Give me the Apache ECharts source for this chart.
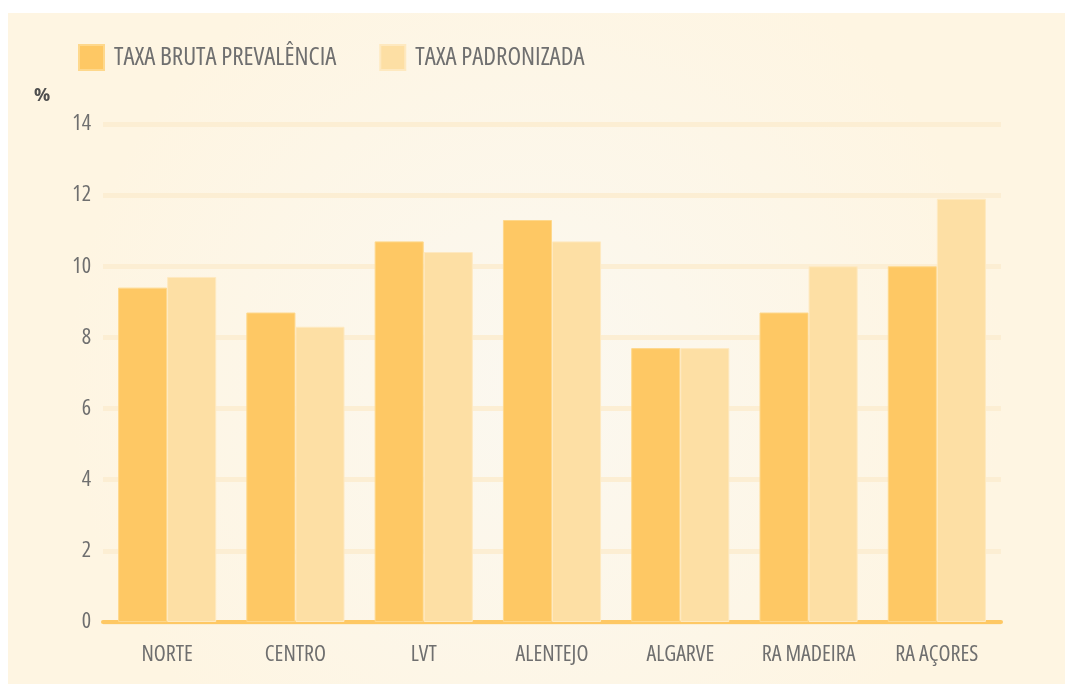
<!DOCTYPE html>
<html>
<head>
<meta charset="utf-8">
<script src="https://cdn.jsdelivr.net/npm/echarts@6/dist/echarts.min.js"></script>
<style>
html,body{margin:0;padding:0;background:#fff;}
#c{width:1065px;height:684px;}
</style>
</head>
<body>
<div id="c"></div>
<script>
var categories = ['NORTE','CENTRO','LVT','ALENTEJO','ALGARVE','RA MADEIRA','RA AÇORES'];
var taxaBruta = [9.4, 8.7, 10.7, 11.3, 7.7, 8.7, 10.0];
var taxaPadronizada = [9.7, 8.3, 10.4, 10.7, 7.7, 10.0, 11.9];
var seriesNames = ['TAXA BRUTA PREVALÊNCIA', 'TAXA PADRONIZADA'];
var yTicks = {min: 0, max: 14, interval: 2};

var FAMILY = '"Open Sans", "Roboto Condensed", sans-serif';
var STRETCH = 'condensed';
var TEXT = '#6f6f6f';
var chart = echarts.init(document.getElementById('c'), null, {renderer: 'canvas'});
chart.setOption({
  backgroundColor: '#ffffff',
  animation: false,
  graphic: [
    {
      type: 'rect', z: -10, silent: true,
      shape: {x: 8, y: 13, width: 1057, height: 671},
      style: {
        fill: new echarts.graphic.RadialGradient(0.5, 0.55, 0.7, [
          {offset: 0, color: '#FBF8F0'},
          {offset: 1, color: '#FEF5E2'}
        ])
      }
    },
    {
      type: 'text', left: 34, top: 87,
      style: {text: '%', font: 'normal bold 18px ' + FAMILY, fill: '#4f4f4f'}
    }
  ],
  legend: {
    left: 73, top: 39,
    itemWidth: 25, itemHeight: 25, itemGap: 43,
    icon: 'rect',
    textStyle: {fontFamily: FAMILY, fontWeight: STRETCH, fontSize: 25, color: TEXT, padding: [0,0,0,5]},
    data: seriesNames
  },
  grid: {left: 103, right: 64, top: 124, bottom: 62, containLabel: false},
  xAxis: {
    type: 'category',
    data: categories,
    axisTick: {show: false},
    axisLine: {lineStyle: {color: '#FEC864', width: 4}},
    axisLabel: {interval: 0, fontFamily: FAMILY, fontWeight: STRETCH, fontSize: 22, color: TEXT, margin: 22}
  },
  yAxis: {
    type: 'value',
    min: yTicks.min, max: yTicks.max, interval: yTicks.interval,
    axisLine: {show: false},
    axisTick: {show: false},
    axisLabel: {fontFamily: FAMILY, fontWeight: STRETCH, fontSize: 22, color: TEXT, margin: 12},
    splitLine: {lineStyle: {color: '#FCEED3', width: 5}}
  },
  series: [
    {
      name: seriesNames[0], type: 'bar', data: taxaBruta,
      barGap: '0%', barCategoryGap: '23.5%',
      itemStyle: {color: '#FEC864', borderColor: '#FED88C', borderWidth: 1}
    },
    {
      name: seriesNames[1], type: 'bar', data: taxaPadronizada,
      itemStyle: {color: '#FDDFA4', borderColor: '#FEE9C0', borderWidth: 1}
    }
  ]
});
</script>
</body>
</html>
